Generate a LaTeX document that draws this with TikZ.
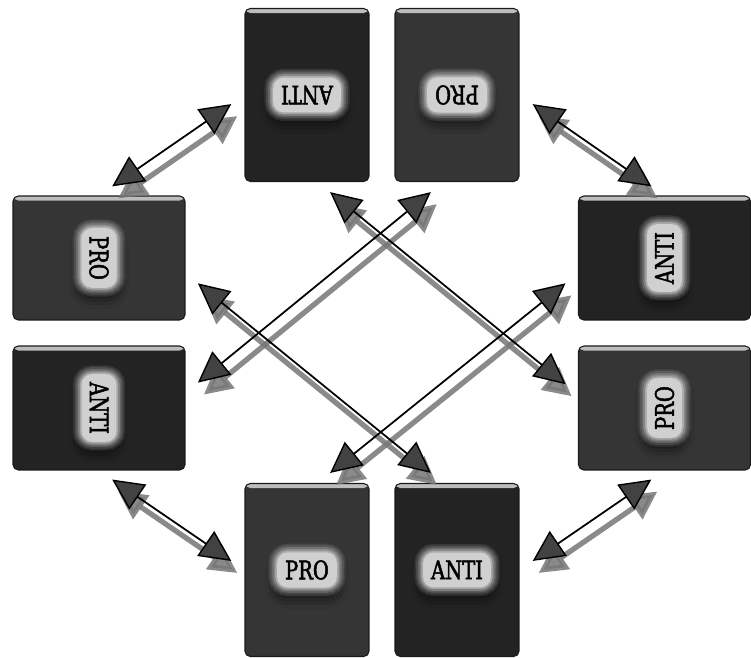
\documentclass[tikz,border=0pt]{standalone}
\usepackage{fontspec}
\usepackage{graphicx}
\newfontfamily\slabfont[FakeBold=2, FakeStretch=0.85]{DejaVu Serif Condensed}
\usetikzlibrary{arrows.meta,shadows.blur}
\definecolor{antibox}{HTML}{232323}
\definecolor{probox}{HTML}{353535}
\definecolor{headfill}{HTML}{424242}
\definecolor{shadowgray}{HTML}{767676}
\definecolor{labelfill}{HTML}{D0D0D0}
\tikzset{
	card/.style={rounded corners=3pt, draw=black!90, line width=0.6pt, fill=#1, inner sep=0pt,
		path picture={\shade[top color=gray!50, bottom color=#1] (path picture bounding box.north west) rectangle ([yshift=-0.09cm]path picture bounding box.north east);}},
	tall/.style={card=#1, minimum width=2.48cm, minimum height=3.46cm},
	wide/.style={card=#1, minimum width=3.44cm, minimum height=2.48cm},
	tag/.style={rounded corners=6pt, fill=labelfill, inner sep=4.5pt, font=\slabfont\fontsize{14.5}{14.5}\selectfont,
		blur shadow={shadow xshift=0pt, shadow yshift=-5pt, shadow opacity=85, shadow blur radius=7pt},
		preaction={draw=labelfill, line width=10pt, opacity=0.12},
		preaction={draw=labelfill, line width=8pt, opacity=0.15},
		preaction={draw=labelfill, line width=6pt, opacity=0.2},
		preaction={draw=labelfill, line width=4pt, opacity=0.3},
		preaction={draw=labelfill, line width=2pt, opacity=0.5}},
	link/.style={draw=black, line width=1pt, shorten <=0.32cm, shorten >=0.32cm, {Triangle[length=0.62cm, width=0.6cm, fill=headfill, line width=0.8pt]}-{Triangle[length=0.62cm, width=0.6cm, fill=headfill, line width=0.8pt]}},
	linkshadow/.style={draw=shadowgray, line width=3pt, shorten <=0.32cm, shorten >=0.32cm, opacity=0.85, transform canvas={shift={(0.12cm,-0.24cm)}}, {Triangle[length=0.56cm, width=0.56cm]}-{Triangle[length=0.56cm, width=0.56cm]}}
}
\begin{document}
\begin{tikzpicture}[x=0.02cm, y=0.02cm]
	\useasboundingbox (0,0) rectangle (751,657);
	\node[tall=antibox] (antiT) at (307,562) {};
	\node[tall=probox] (proT) at (457,562) {};
	\node[wide=probox] (proL) at (99,399) {};
	\node[wide=antibox] (antiL) at (99,249) {};
	\node[wide=antibox] (antiR) at (664.5,399) {};
	\node[wide=probox] (proR) at (664.5,249) {};
	\node[tall=probox] (proB) at (307,87) {};
	\node[tall=antibox] (antiB) at (457,87) {};
	\node[tag] (antiTtag) at (antiT) {\rotatebox{180}{ANTI}};
	\node[tag] (proTtag) at (proT) {\rotatebox{180}{PRO}};
	\node[tag] (proLtag) at (proL) {\rotatebox{-90}{PRO}};
	\node[tag] (antiLtag) at (antiL) {\rotatebox{-90}{ANTI}};
	\node[tag] (antiRtag) at (antiR) {\rotatebox{90}{ANTI}};
	\node[tag] (proRtag) at (proR) {\rotatebox{90}{PRO}};
	\node[tag] (proBtag) at (proB) {PRO};
	\node[tag] (antiBtag) at (antiB) {ANTI};
	\draw[linkshadow] (proL.north) -- (antiT.west);
	\draw[linkshadow] (proT.east) -- (antiR.north);
	\draw[linkshadow] (antiL.south) -- (proB.west);
	\draw[linkshadow] (antiB.east) -- (proR.south);
	\draw[linkshadow] (antiL.10) -- (proT.-99);
	\draw[linkshadow] (antiT.-83) -- (proR.171);
	\draw[linkshadow] (proL.-10) -- (antiB.99);
	\draw[linkshadow] (antiR.190) -- (proB.83);
	\draw[link] (proL.north) -- (antiT.west);
	\draw[link] (proT.east) -- (antiR.north);
	\draw[link] (antiL.south) -- (proB.west);
	\draw[link] (antiB.east) -- (proR.south);
	\draw[link] (antiL.10) -- (proT.-99);
	\draw[link] (antiT.-83) -- (proR.171);
	\draw[link] (proL.-10) -- (antiB.99);
	\draw[link] (antiR.190) -- (proB.83);
\end{tikzpicture}
\end{document}
